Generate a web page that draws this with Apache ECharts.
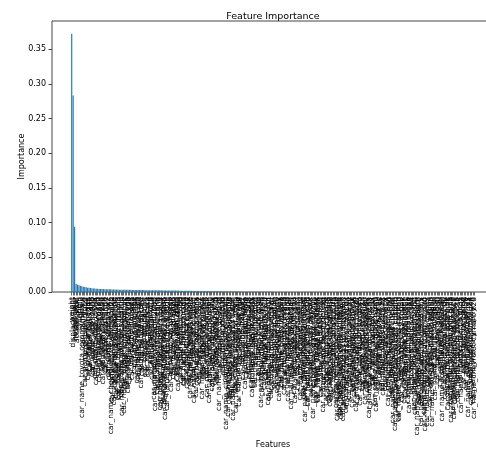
<!DOCTYPE html>
<html>
<head>
<meta charset="utf-8">
<title>Feature Importance</title>
<script src="https://cdn.jsdelivr.net/npm/echarts@6/dist/echarts.min.js"></script>
<style>
html, body { margin: 0; padding: 0; background: #fff; }
#chart { width: 486px; height: 452px; }
</style>
</head>
<body>
<div id="chart"></div>
<script type="text/javascript">

var baseFeatures = ['weight', 'displacement', 'horsepower', 'model_year', 'acceleration', 'cylinders', 'origin'];

var carModels = [
  'toyota corona mark ii','vw','datsun pl510','bmw 2002','amc hornet','fiat 124b','saab 99e','ford torino','opel 1900','audi 100 ls',
  'peugeot 504','chevy c20','dodge d200','hi 1200d','ford f250','amc gremlin','ford pinto','vw rabbit','mazda rx2','honda civic',
  'chevrolet chevelle malibu','buick skylark 320','plymouth satellite','amc rebel sst','ford galaxie 500','chevrolet impala','plymouth fury iii','pontiac catalina','amc ambassador dpl','dodge challenger se',
  'ford maverick','toyota corona','chevrolet vega','datsun 1200','fiat 128','opel manta','saab 99le','audi fox','volvo 144ea','renault 12tl',
  'mazda glc','honda accord','vw dasher','capri ii','dodge colt','ford fiesta','mazda rx3','subaru','fiat x1.9','datsun 710',
  'plymouth duster','mercury capri 2000','pontiac firebird','ford mustang','toyota corolla 1200','volkswagen type 3','plymouth cricket','dodge colt hardtop','chevrolet monte carlo','buick estate wagon',
  'bmw 320i','vw scirocco','honda prelude','mazda 626','audi 5000','saab 900s','volvo 264gl','peugeot 604sl','fiat strada','renault 5 gtl',
  'amc concord','ford granada','chevy nova','buick century','dodge aspen','plymouth volare','ford fairmont','amc pacer','chevrolet citation','pontiac phoenix',
  'toyota celica','datsun 280z','mazda rx-7','honda civic cvcc','vw pickup','ford ranger','chevy s-10','dodge rampage','plymouth horizon','dodge omni',
  'ford escort 4w','mercury lynx','toyota tercel','datsun 210','mazda glc 4','honda civic 1500 gl','subaru dl','vw jetta','audi 4000','volvo diesel',
  'chevrolet caprice classic','olds cutlass supreme','buick regal coupe','ford thunderbird','mercury cougar','chrysler lebaron salon','dodge st. regis','pontiac grand prix lj','cadillac seville','lincoln continental',
  'vw golf','fiat 131','opel kadett','peugeot 505s','saab 99gle','bmw 528i','mazda 808','toyota starlet','honda accord lx','datsun 200sx',
  'amc matador','ford ltd','chevy vega','buick opel','plymouth arrow gs','dodge colt m/m','toyota mark ii','datsun f-10','mazda rx-4','honda civic (auto)',
  'ford pinto wagon','amc hornet (sw)','chevy vega gt','pontiac safari','ford squire','dodge monaco','plymouth fury','mercury marquis','chevy impala','buick lesabre',
  'toyota cressida','datsun 810','mazda 626 gl','honda civic 1300','vw rabbit l','audi 5000s (diesel)','volvo 245','saab 900 turbo','peugeot 504 (sw)','fiat 124 tc',
  'ford granada l','chevrolet malibu','amc spirit dl','dodge diplomat','plymouth reliant','chrysler newport royal','oldsmobile omega','pontiac lemans v6','buick skylark','mercury zephyr',
  'toyota corolla liftback','datsun b-210','mazda glc deluxe','honda prelude sx','vw rabbit custom','audi 100ls','volvo 145e (sw)','renault lecar deluxe','fiat 128 (sw)','triumph tr7 coupe',
  'ford mustang gl','chevrolet camaro','dodge charger 2.2','plymouth champ','amc concord d/l','ford futura','chevrolet chevette','pontiac sunbird coupe','buick century limited','oldsmobile cutlass ls',
  'toyota corona liftback','datsun 510 hatchback','mazda glc custom l','honda civic 1500 dx','vw dasher (diesel)','nissan stanza xe','toyota camry','honda accord cvcc','datsun 310 gx','toyota starlet xl',
  'ford fairmont (auto)','chevy s-10 blazer','dodge aries','plymouth sapporo','mercury lynx l','ford escort 2h','chevrolet cavalier','pontiac j2000','buick skyhawk','oldsmobile starfire sx',
  'vw rabbit c (diesel)','vw dasher lx','audi fox (sw)','fiat strada custom','peugeot 505s turbo','saab 99 turbo','volvo 262c','mazda rx-7 gs','datsun 280-zx','toyota celica gt',
  'amc gremlin x','amc hornet x','amc matador (sw)','ford gran torino','ford torino 500','chevrolet bel air','chevrolet nova custom','plymouth valiant custom','dodge dart custom','dodge coronet custom',
  'toyota corona hardtop','datsun 610','mazda rx2 coupe','honda civic hatch','vw super beetle','vw model 111','opel manta rallye','fiat 124 sport coupe','renault 12 (sw)','peugeot 304',
  'ford pinto runabout','chevrolet vega 2300','plymouth satellite custom','amc ambassador','pontiac catalina b','chevrolet monte carlo s','pontiac grand prix','ford gran torino (sw)','plymouth custom suburb','oldsmobile vista cruiser',
  'toyota carina','datsun 710 wagon','mazda rx3 sp','honda civic cvcc wagon','subaru gl','fiat 131 mirafiori','volvo 245 dl','audi 80','bmw 2002 tii','saab 99gl',
  'ford maverick grabber','amc pacer d/l','chevrolet woody','dodge aspen se','plymouth volare v8','ford granada ghia','mercury monarch ghia','buick skylark limited','chevrolet citation x11','pontiac phoenix lj',
  'toyota tercel sr5','datsun 200-sx se','mazda glc 5','honda civic 1300 dx','vw caddy','ford ranger xl','dodge ram 50','chevy luv','plymouth horizon tc3','dodge omni 024',
  'ford escort wagon','mercury zephyr 6','chevrolet camaro z28'
];

var features = baseFeatures.concat(carModels.map(function (m) { return 'car_name_' + m; }));

var importance = [
  0.372, 0.283, 0.094, 0.0118, 0.0106, 0.0097, 0.0089, 0.0082, 0.0076, 0.0071,
  0.0067, 0.0063, 0.0060, 0.0057, 0.0054, 0.0052, 0.0050, 0.0048, 0.0047, 0.0045,
  0.0044, 0.0043, 0.0042, 0.0041, 0.0040, 0.0039, 0.0038, 0.0038, 0.0037, 0.0036,
  0.0036, 0.0035, 0.0035, 0.0034, 0.0034, 0.0033, 0.0033, 0.0032, 0.0032, 0.0031,
  0.0031, 0.0031, 0.0030, 0.0030, 0.0030, 0.0029, 0.0029, 0.0029, 0.0028, 0.0028,
  0.0028, 0.0027, 0.0027, 0.0027, 0.0026, 0.0026, 0.0026, 0.0025, 0.0025, 0.0025,
  0.0024, 0.0024, 0.0024, 0.0023, 0.0023, 0.0023, 0.0022, 0.0022, 0.0022, 0.0021,
  0.0021, 0.0021, 0.0020, 0.0020, 0.0020, 0.0019, 0.0019, 0.0019, 0.0018, 0.0018,
  0.0018, 0.0017, 0.0017, 0.0017, 0.0016, 0.0016, 0.0016, 0.0015, 0.0015, 0.0015,
  0.0014, 0.0014, 0.0014, 0.0013, 0.0013, 0.0013, 0.0012, 0.0012, 0.0012, 0.0011,
  0.0011, 0.0011, 0.0010, 0.0010, 0.0010, 0.0009, 0.0009, 0.0009, 0.0008, 0.0008,
  0.0008, 0.0007, 0.0007, 0.0007, 0.0006, 0.0006, 0.0006, 0.0005, 0.0005, 0.0005,
  0.0004, 0.0004, 0.0004, 0.0003, 0.0003, 0.0003, 0.0003, 0.0002, 0.0002, 0.0002,
  0.0002, 0.0002, 0.0002, 0.0002, 0.0002, 0.0002, 0.0002, 0.0002, 0.0002, 0.0002,
  0.0001, 0.0001, 0.0001, 0.0001, 0.0001, 0.0001, 0.0001, 0.0001, 0.0001, 0.0001,
  0.0001, 0.0001, 0.0001, 0.0001, 0.0001, 0.0001, 0.0001, 0.0001, 0.0001, 0.0001,
  0.0001, 0.0001, 0.0001, 0.0001, 0.0001, 0.0001, 0.0001, 0.0001, 0.0001, 0.0001,
  0.0001, 0.0001, 0.0001, 0.0001, 0.0001, 0.0001, 0.0001, 0.0001, 0.0001, 0.0001,
  0, 0, 0, 0, 0, 0, 0, 0, 0, 0,
  0, 0, 0, 0, 0, 0, 0, 0, 0, 0,
  0, 0, 0, 0, 0, 0, 0, 0, 0, 0,
  0, 0, 0, 0, 0, 0, 0, 0, 0, 0,
  0, 0, 0, 0, 0, 0, 0, 0, 0, 0,
  0, 0, 0, 0, 0, 0, 0, 0, 0, 0,
  0, 0, 0, 0, 0, 0, 0, 0, 0, 0,
  0, 0, 0, 0, 0, 0, 0, 0, 0, 0,
  0, 0, 0, 0, 0, 0, 0, 0, 0, 0,
  0, 0, 0, 0, 0, 0, 0, 0, 0, 0
];

var yMax = 0.3905;

var chart = echarts.init(document.getElementById('chart'));

var option = {
  backgroundColor: '#fff',
  animation: false,
  textStyle: { fontFamily: 'DejaVu Sans' },
  title: {
    text: 'Feature Importance',
    left: 268,
    top: 7,
    textAlign: 'center',
    textStyle: { fontSize: 9.5, fontWeight: 'normal', color: '#000', fontFamily: 'DejaVu Sans' }
  },
  grid: [
    // axes frame (matplotlib spines, with x margins); runs past the right edge like the cropped figure
    { left: 52, top: 21, width: 443, height: 271, show: true, borderColor: '#444', borderWidth: 1,
      backgroundColor: 'transparent', outerBoundsMode: 'none' },
    // bar area
    { left: 71, top: 21, width: 404, height: 271, outerBoundsMode: 'none' }
  ],
  xAxis: [
    { gridIndex: 0, type: 'value', show: false, min: 0, max: 1 },
    {
      gridIndex: 1,
      type: 'category',
      data: features,
      axisLine: { show: false },
      axisTick: { show: true, interval: 0, length: 3.5, alignWithLabel: true, lineStyle: { color: '#444', width: 0.8 } },
      axisLabel: { interval: 0, rotate: 90, fontSize: 7.5, color: '#000', margin: 5 },
      name: 'Features',
      nameLocation: 'middle',
      nameGap: 149,
      nameMoveOverlap: false,
      nameTextStyle: { fontSize: 8, color: '#000' }
    }
  ],
  yAxis: [
    {
      gridIndex: 0,
      type: 'value',
      min: 0,
      max: yMax,
      interval: 0.05,
      axisLine: { show: false },
      axisTick: { show: true, length: 3.5, lineStyle: { color: '#444' } },
      splitLine: { show: false },
      axisLabel: {
        fontSize: 8, color: '#000', margin: 6, showMaxLabel: false,
        formatter: function (v) { return v.toFixed(2); }
      },
      name: 'Importance',
      nameLocation: 'middle',
      nameGap: 26,
      nameMoveOverlap: false,
      nameTextStyle: { fontSize: 8, color: '#000' }
    },
    { gridIndex: 1, type: 'value', min: 0, max: yMax, show: false }
  ],
  series: [
    {
      name: 'Importance',
      type: 'bar',
      xAxisIndex: 1,
      yAxisIndex: 1,
      data: importance,
      barCategoryGap: '20%',
      itemStyle: { color: '#1f77b4' }
    }
  ]
};

chart.setOption(option);

</script>
</body>
</html>
